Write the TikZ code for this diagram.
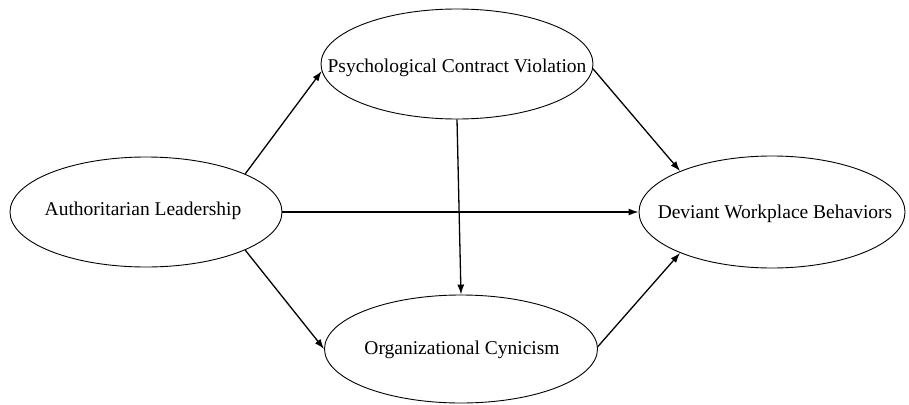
\documentclass[tikz,border=0pt]{standalone}
\usepackage{fontspec}
\setmainfont{Liberation Serif}
\usetikzlibrary{shapes.geometric,arrows.meta}
\newcommand{\zerobox}[1]{\makebox[0pt]{#1}}
\begin{document}
\begin{tikzpicture}[x=1pt,y=-1pt,
  var/.style={draw, ellipse, line width=0.9pt, inner sep=0pt, font=\fontsize{19.5}{22}\selectfont},
  lbl/.style={font=\fontsize{19.5}{22}\selectfont, inner sep=0pt},
  link/.style={line width=1.3pt, -{Latex[length=10pt,width=7pt]}}]
\useasboundingbox (0,0) rectangle (909,404);
\node[var, minimum width=272pt, minimum height=110pt] (al) at (146,212) {};
\node[var, minimum width=272pt, minimum height=110pt] (pcv) at (457,64) {};
\node[var, minimum width=273pt, minimum height=108pt] (oc) at (461,349) {};
\node[var, minimum width=266pt, minimum height=112pt] (dwb) at (772,212) {};
\node[lbl] (alt) at (143,211) {Authoritarian Leadership};
\node[lbl] (pcvt) at (457,68) {Psychological Contract Violation};
\node[lbl] (oct) at (462,350) {Organizational Cynicism};
\node[lbl] (dwbt) at (775,214) {Deviant Workplace Behaviors};
\draw[link] (al.21) -- (pcv.183);
\draw[link] (al.-21) -- (oc.180);
\draw[link] (al.east) -- (dwb.west);
\draw[link] (pcv.-2) -- (dwb.156);
\draw[link] (oc.1) -- (dwb.204);
\draw[link] (pcv.south) -- (oc.north);
\end{tikzpicture}
\end{document}
